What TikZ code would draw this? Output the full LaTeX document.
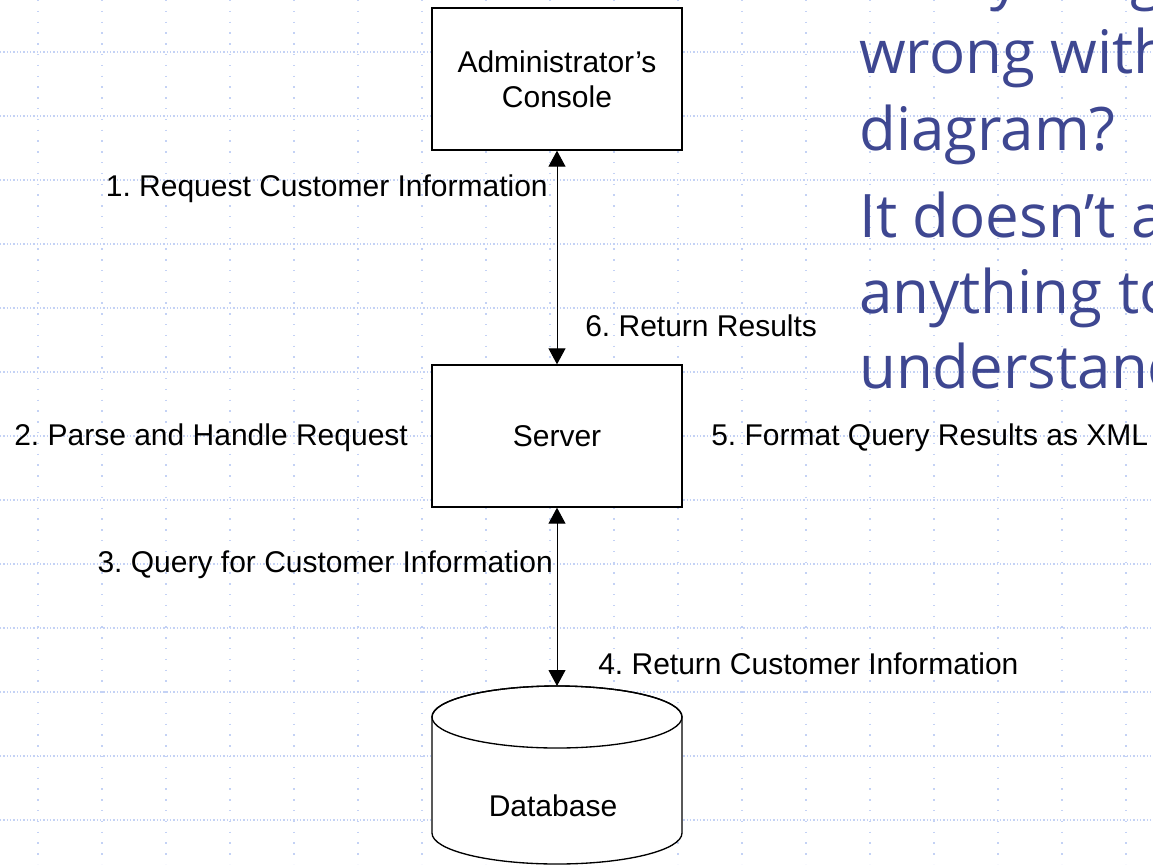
\documentclass[tikz,border=0pt]{standalone}
\usepackage{fontspec}
\setmainfont{Liberation Sans}
\newfontfamily\slidefont{Open Sans}
\usetikzlibrary{arrows.meta}
\definecolor{gridblue}{RGB}{196,210,245}
\definecolor{slideblue}{RGB}{62,71,145}
\frenchspacing

\tikzset{
  gridh/.style={gridblue, line width=1.1pt, dash pattern={on 1.1pt off 1.4pt}},
  gridv/.style={gridblue, line width=1.1pt, dash pattern={on 1.1pt off 7pt}},
  box/.style={draw, line width=1pt, fill=white, minimum width=187.5pt, minimum height=106.5pt, align=center, font=\fontsize{22.5}{26.25}\selectfont},
  lbl/.style={inner sep=0pt, font=\fontsize{22.5}{26.25}\selectfont},
  flow/.style={line width=0.75pt, {Triangle[length=12pt,width=12.75pt]}-{Triangle[length=12pt,width=12.75pt]}},
  slide/.style={inner sep=0pt, anchor=base west, text=slideblue, font=\slidefont\fontsize{45}{57}\selectfont},
}

\begin{document}
\begin{tikzpicture}[x=0.75pt,y=0.75pt,yscale=-1,xscale=1]
\useasboundingbox (0,0) rectangle (1153,864);
\clip (0,0) rectangle (1153,864);

%Grid
\foreach \gy in {52,116,...,820}
  \draw [gridh] (0,\gy) -- (1153,\gy);
\foreach \gx in {38,102,...,1126}
  \draw [gridv] (\gx,0) -- (\gx,864);

%Shape: Rectangle [admin]
\node (admin) [box] at (557,79) {Administrator’s\\Console};
%Shape: Rectangle [server]
\node (server) [box] at (557,436) {Server};

%Shape: Can [database]
\draw [line width=1pt, fill=white] (432,717) -- (432,833) arc [start angle=180, end angle=0, x radius=125, y radius=31] -- (682,717) arc [start angle=0, end angle=-180, x radius=125, y radius=31] -- cycle;
\draw [line width=1pt] (557,717) ellipse [x radius=125, y radius=31];
\coordinate (dbtop) at (557,686);
\node (db) [lbl, anchor=base] at (553,816) {Database};

%Straight Lines
\draw [flow] (admin.south) -- (server.north);
\draw [flow] (server.south) -- (dbtop);

% Text Node
\node (req) [lbl, anchor=base east] at (548,196) {1. Request Customer Information};
% Text Node
\node (parse) [lbl, anchor=base west] at (14,445) {2. Parse and Handle Request};
% Text Node
\node (query) [lbl, anchor=base east] at (553,572) {3. Query for Customer Information};
% Text Node
\node (retinfo) [lbl, anchor=base west] at (598,674) {4. Return Customer Information};
% Text Node
\node (format) [lbl, anchor=base west] at (711,445) {5. Format Query Results as XML};
% Text Node
\node (retres) [lbl, anchor=base west] at (585,336) {6. Return Results};

% Slide text
\node (q1) [slide] at (859,-3) {Is anything};
\node (q2) [slide] at (859,73) {wrong with this};
\node (q3) [slide] at (859,150) {diagram?};
\node (a1) [slide] at (859,237) {It doesn’t add};
\node (a2) [slide] at (859,313) {anything to};
\node (a3) [slide] at (859,388) {understanding};

\end{tikzpicture}
\end{document}
